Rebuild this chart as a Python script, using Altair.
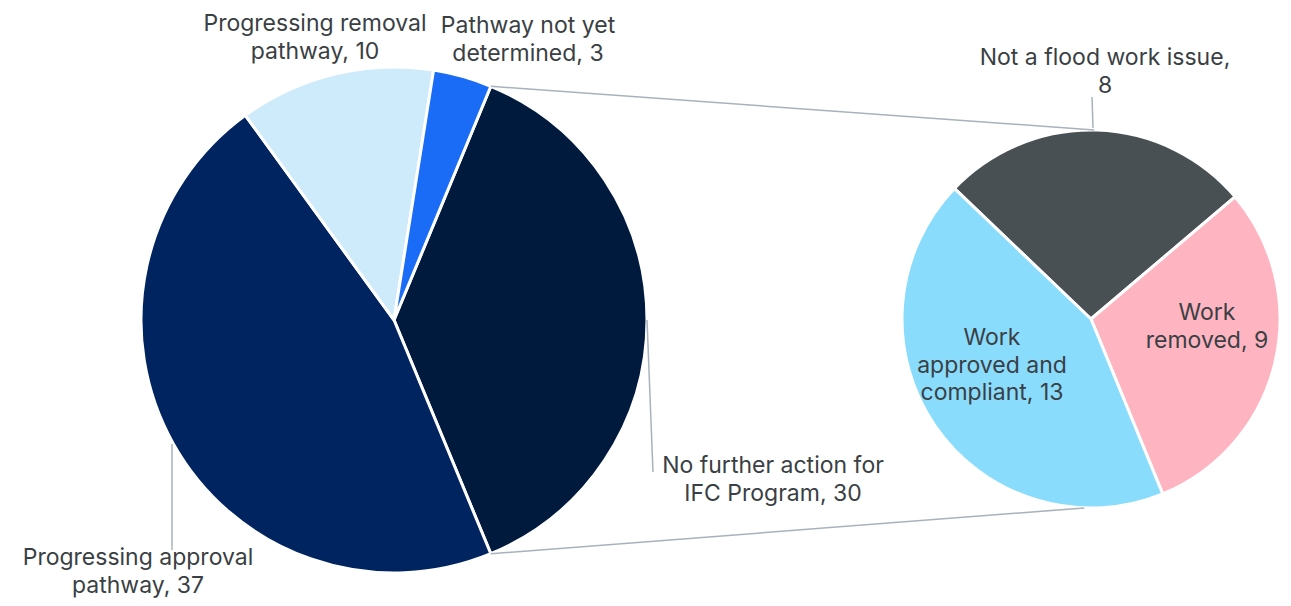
import math
import altair as alt
import pandas as pd

# ---- data ----
main_categories = ["No further action for IFC Program", "Progressing approval pathway",
                   "Progressing removal pathway", "Pathway not yet determined"]
main_values = [30, 37, 10, 3]
main_colors = ["#001a3e", "#00245f", "#cdebfb", "#1a6cf6"]

sub_categories = ["Not a flood work issue", "Work removed", "Work approved and compliant"]
sub_values = [8, 9, 13]
sub_colors = ["#495054", "#ffb5c1", "#8adcfd"]

main_labels = ["No further action for\nIFC Program, 30", "Progressing approval\npathway, 37",
               "Progressing removal\npathway, 10", "Pathway not yet\ndetermined, 3"]
sub_labels = ["Not a flood work issue,\n8", "Work\nremoved, 9", "Work\napproved and\ncompliant, 13"]

# ---- layout (chart pixel coordinates; page margin 8px) ----
W, H = 1275, 590
OFF = 8
cx1, cy1, r1 = 394 - OFF, 320 - OFF, 253
cx2, cy2, r2 = 1091 - OFF, 319 - OFF, 189

# main pie: split slice (first) centred on the right side
split_frac = main_values[0] / sum(main_values)
start1 = math.pi / 2 - split_frac * math.pi
start2 = math.radians(-46.3)

TEXT = "#3a3f44"
LINE = "#a8b2bc"
FONT = "Inter"
FS = 23

main_df = pd.DataFrame({"category": main_categories, "value": main_values,
                        "order": list(range(len(main_values)))})
sub_df = pd.DataFrame({"category": sub_categories, "value": sub_values,
                       "order": list(range(len(sub_values)))})

main_arc = alt.Chart(main_df).mark_arc(
    radius=r1, stroke="white", strokeWidth=3
).encode(
    theta=alt.Theta("value:Q", stack=True,
                    scale=alt.Scale(domain=[0, sum(main_values)], range=[start1, start1 + 2 * math.pi])),
    color=alt.Color("category:N", scale=alt.Scale(domain=main_categories, range=main_colors), legend=None),
    order=alt.Order("order:Q"),
    x=alt.value(cx1), y=alt.value(cy1),
)

sub_arc = alt.Chart(sub_df).mark_arc(
    radius=r2, stroke="white", strokeWidth=3
).encode(
    theta=alt.Theta("value:Q", stack=True,
                    scale=alt.Scale(domain=[0, sum(sub_values)], range=[start2, start2 + 2 * math.pi])),
    color=alt.Color("category:N", scale=alt.Scale(domain=sub_categories, range=sub_colors), legend=None),
    order=alt.Order("order:Q"),
    x=alt.value(cx2), y=alt.value(cy2),
)

# connector lines from the split slice edges to top/bottom of the secondary pie
a_top = start1
a_bot = start1 + split_frac * 2 * math.pi
def pt(cx, cy, r, a):
    return cx + r * math.sin(a), cy - r * math.cos(a)
p1 = pt(cx1, cy1, r1, a_top)
p2 = pt(cx2, cy2, r2, math.radians(1))
p3 = pt(cx1, cy1, r1, a_bot)
p4 = pt(cx2, cy2, r2, math.radians(182))

leaders = [
    ((647 - OFF, 320 - OFF), (653 - OFF, 472 - OFF)),
    ((172 - OFF, 444 - OFF), (172 - OFF, 550 - OFF)),
    ((1093 - OFF, 128 - OFF), (1092 - OFF, 97 - OFF)),
]
lines = [(p1, p2), (p3, p4)] + leaders
lines_df = pd.DataFrame({
    "x": [a[0] for a, b in lines], "y": [a[1] for a, b in lines],
    "x2": [b[0] for a, b in lines], "y2": [b[1] for a, b in lines],
})
rules = alt.Chart(lines_df).mark_rule(color=LINE, strokeWidth=1.5).encode(
    x=alt.X("x:Q", scale=None), y=alt.Y("y:Q", scale=None),
    x2="x2:Q", y2="y2:Q",
)

# first-line centre of each label
label_pos = [(773, 466), (138, 558), (315, 24), (528, 26),
             (1105, 58), (1207, 313), (992, 338)]
labels_df = pd.DataFrame({
    "text": main_labels + sub_labels,
    "x": [p[0] - OFF for p in label_pos],
    "y": [p[1] - OFF for p in label_pos],
})
texts = alt.Chart(labels_df).mark_text(
    align="center", baseline="middle", lineBreak="\n", lineHeight=27.5,
    fontSize=FS, font=FONT, color=TEXT,
).encode(
    x=alt.X("x:Q", scale=None), y=alt.Y("y:Q", scale=None), text="text:N",
)

chart = alt.layer(main_arc, sub_arc, rules, texts).resolve_scale(
    theta="independent", color="independent"
).properties(
    width=W, height=H, padding=0,
    autosize=alt.AutoSizeParams(type="fit", contains="padding"),
).configure_view(stroke=None)

chart.save("out.html", embed_options={"renderer": "svg", "actions": False})
